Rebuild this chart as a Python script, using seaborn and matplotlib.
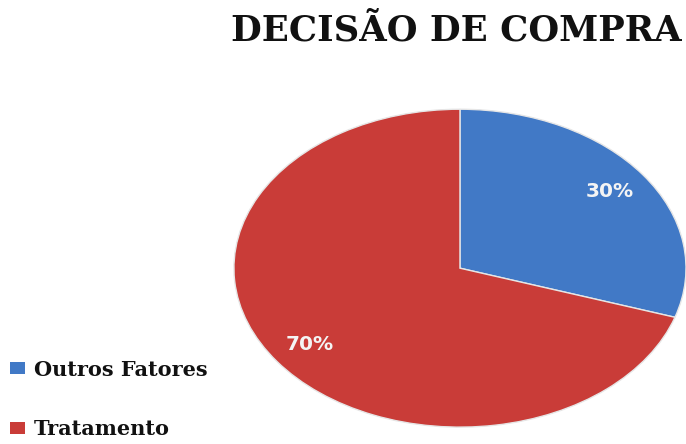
import matplotlib
matplotlib.use("Agg")
import matplotlib.pyplot as plt
import seaborn as sns
from matplotlib.patches import Patch

categories = ["Outros Fatores", "Tratamento"]
values = [30, 70]
title = "DECISÃO DE COMPRA"

sns.set_theme(style="white")
plt.rcParams["font.family"] = ["DejaVu Sans"]

colors = sns.color_palette(["#4179C6", "#C93C38"])

fig = plt.figure(figsize=(6.86, 4.44), dpi=100)
fig.patch.set_facecolor("white")

# stretched (elliptical) pie area
ax = fig.add_axes([0.341, 0.038, 0.659, 0.716])
wedges, texts, autotexts = ax.pie(
    values, colors=colors, startangle=90, counterclock=False,
    autopct="%1.0f%%", pctdistance=0.82,
    wedgeprops=dict(edgecolor="#e6e6e6", linewidth=1.0),
    textprops=dict(color="#f4f4f4", fontsize=14.5, fontweight="bold",
                   family="DejaVu Sans"),
)
ax.set_aspect("auto")
ax.set_xlim(-1, 1)
ax.set_ylim(-1, 1)
ax.axis("off")

fig.text(0.665, 0.932, title, ha="center", va="center",
         fontsize=25.5, fontweight="bold", family="DejaVu Serif", color="#111111")

handles = [Patch(facecolor=c, edgecolor="none") for c in colors]
leg = fig.legend(handles, categories, loc="lower left",
                 bbox_to_anchor=(-0.006, -0.022), frameon=False,
                 prop=dict(family="DejaVu Serif", weight="bold", size=15),
                 handlelength=0.72, handleheight=0.5, handletextpad=0.42,
                 labelspacing=1.9, borderaxespad=0.3)
for t in leg.get_texts():
    t.set_color("#111111")

fig.savefig("out.png", dpi=100, facecolor="white")
